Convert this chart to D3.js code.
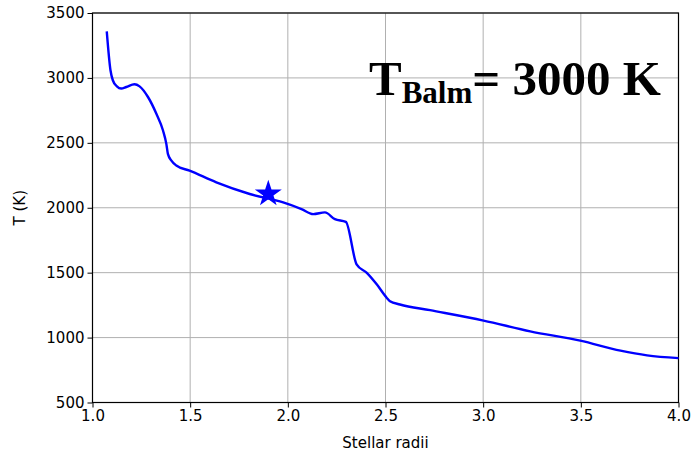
<!DOCTYPE html>
<html>
<head>
<meta charset="utf-8">
<script src="https://cdn.jsdelivr.net/npm/d3@7"></script>
<style>
  body { margin: 0; background: #fff; }
  text { font-family: "DejaVu Sans", sans-serif; }
</style>
</head>
<body>
<svg width="692" height="454"></svg>
<script>
let width = 692, height = 454;

// curve
let radii = [1.073, 1.092, 1.104, 1.125, 1.147, 1.173, 1.215, 1.241, 1.284, 1.327, 1.361, 1.378, 1.386, 1.404, 1.429, 1.497, 1.634, 1.805, 1.976, 2.070, 2.130, 2.190, 2.241, 2.297, 2.352, 2.403, 2.455, 2.506, 2.523, 2.574, 2.728, 3.002, 3.241, 3.497, 3.703, 3.839, 4.000];
let temps = [3358, 3059, 2982, 2935, 2918, 2930, 2951, 2935, 2853, 2724, 2595, 2492, 2415, 2363, 2325, 2286, 2196, 2106, 2041, 1990, 1951, 1964, 1912, 1891, 1564, 1500, 1410, 1307, 1280, 1255, 1211, 1131, 1048, 976, 899, 863, 842];

let starR = [1.9];
let starT = [2107];

let xTicks = [1.0, 1.5, 2.0, 2.5, 3.0, 3.5, 4.0];
let yTicks = [500, 1000, 1500, 2000, 2500, 3000, 3500];

let margin = {left: 92.5, right: 13.5, top: 13, bottom: 51.5};

let svg = d3.select("svg");

let x = d3.scaleLinear()
    .domain([1.0, 4.0])
    .range([margin.left, width - margin.right]);

let y = d3.scaleLinear()
    .domain([500, 3500])
    .range([height - margin.bottom, margin.top]);

// grid
svg.append("g")
    .selectAll("line")
    .data(xTicks)
    .enter()
    .append("line")
    .attr("x1", d => x(d)).attr("x2", d => x(d))
    .attr("y1", y(500)).attr("y2", y(3500))
    .attr("stroke", "#b0b0b0").attr("stroke-width", 1);

svg.append("g")
    .selectAll("line")
    .data(yTicks)
    .enter()
    .append("line")
    .attr("y1", d => y(d)).attr("y2", d => y(d))
    .attr("x1", x(1)).attr("x2", x(4))
    .attr("stroke", "#b0b0b0").attr("stroke-width", 1);

// axes
let xAxis = svg.append("g")
    .attr("transform", "translate(0," + y(500) + ")")
    .call(d3.axisBottom(x).tickValues(xTicks).tickFormat(d3.format(".1f")).tickSize(5).tickPadding(3));

let yAxis = svg.append("g")
    .attr("transform", "translate(" + x(1) + ",0)")
    .call(d3.axisLeft(y).tickValues(yTicks).tickFormat(d3.format("d")).tickSize(5).tickPadding(3));

[xAxis, yAxis].forEach(a => {
    a.selectAll("text").style("font-size", "15px").style("font-family", "DejaVu Sans").attr("fill", "#000");
    a.selectAll("line").attr("stroke", "#000");
    a.select(".domain").remove();
});

// frame
svg.append("rect")
    .attr("x", x(1)).attr("y", y(3500))
    .attr("width", x(4) - x(1)).attr("height", y(500) - y(3500))
    .attr("fill", "none").attr("stroke", "#000").attr("stroke-width", 1.2);

// curve
let line = d3.line()
    .x((d, i) => x(radii[i]))
    .y((d, i) => y(temps[i]))
    .curve(d3.curveMonotoneX);

svg.append("path")
    .datum(radii)
    .attr("d", line)
    .attr("fill", "none")
    .attr("stroke", "#0000ff")
    .attr("stroke-width", 2.4)
    .attr("stroke-linejoin", "round");

// star marker
svg.append("g")
    .selectAll("path")
    .data(starR)
    .enter()
    .append("path")
    .attr("d", d3.symbol().type(d3.symbolStar).size(226))
    .attr("transform", (d, i) => "translate(" + x(d) + "," + y(starT[i]) + ")")
    .attr("fill", "#0000ff");

// labels
svg.append("text")
    .attr("x", (x(1) + x(4)) / 2)
    .attr("y", 448)
    .attr("text-anchor", "middle")
    .style("font-size", "15px")
    .text("Stellar radii");

svg.append("text")
    .attr("transform", "translate(25," + ((y(500) + y(3500)) / 2) + ") rotate(-90)")
    .attr("text-anchor", "middle")
    .style("font-size", "15px")
    .text("T (K)");

let title = svg.append("text")
    .attr("x", 369)
    .attr("y", 95)
    .style("font-family", "Liberation Serif, Times New Roman, serif")
    .style("font-weight", "bold")
    .style("font-size", "49px");

title.append("tspan").text("T");
title.append("tspan").attr("dy", 8).style("font-size", "31px").text("Balm");
title.append("tspan").attr("dy", -8).text("= 3000 K");
</script>
</body>
</html>
